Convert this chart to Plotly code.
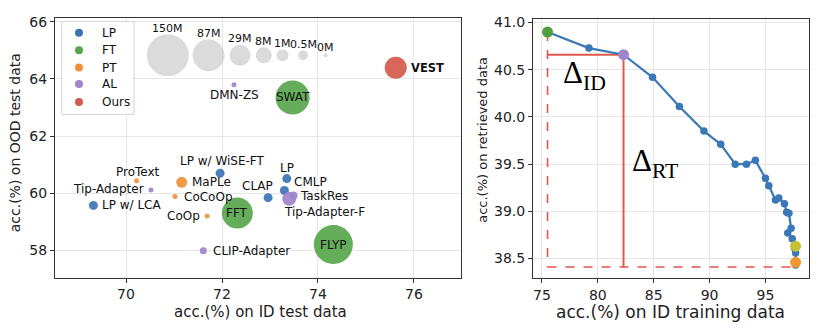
import plotly.graph_objects as go

# ---------------- data: OOD vs ID accuracy of adaptation methods ----------------
methods = ["LP w/ WiSE-FT", "LP", "CMLP", "CLAP", "LP w/ LCA",
           "FFT", "FLYP", "SWAT",
           "MaPLe", "CoCoOp", "CoOp", "ProText",
           "TaskRes", "Tip-Adapter-F", "Tip-Adapter", "CLIP-Adapter", "DMN-ZS",
           "VEST"]
method_group = ["LP", "LP", "LP", "LP", "LP",
                "FT", "FT", "FT",
                "PT", "PT", "PT", "PT",
                "AL", "AL", "AL", "AL", "AL",
                "Ours"]
id_acc = [71.96, 73.35, 73.30, 72.96, 69.32,
          72.32, 74.32, 73.47,
          71.16, 71.02, 71.69, 70.22,
          73.49, 73.40, 70.52, 71.61, 72.25,
          75.62]
ood_acc = [60.70, 60.51, 60.09, 59.84, 59.57,
           59.30, 58.20, 63.35,
           60.38, 59.88, 59.20, 60.43,
           59.92, 59.80, 60.11, 57.98, 63.80,
           64.39]

# trainable-parameter size key
param_labels = ["150M", "87M", "29M", "8M", "1M", "0.5M", "0M"]
param_x = [70.87, 71.72, 72.375, 72.87, 73.26, 73.69, 74.16]
param_y = 64.83

groups = ["LP", "FT", "PT", "AL", "Ours"]

# ---------------- data: retrieved vs ID training accuracy ----------------
train_acc = [75.5, 79.2, 82.3, 84.9, 87.3, 89.5, 91.0, 92.3, 93.3, 94.1,
             95.0, 95.3, 95.9, 96.2, 96.7, 96.9, 97.1, 97.3, 97.0, 97.4,
             97.6, 97.7, 97.7]
retr_acc = [40.90, 40.73, 40.66, 40.42, 40.11, 39.85, 39.71, 39.50, 39.50, 39.54,
            39.35, 39.27, 39.12, 39.14, 39.08, 38.99, 38.98, 38.82, 38.77, 38.71,
            38.61, 38.56, 38.43]
start_idx, mid_idx = 0, 2
olive_pt = (97.7, 38.63)
orange_pt = (97.7, 38.46)

# ---------------- styles ----------------
FONT = "DejaVu Sans"
group_color = {"LP": "#3b74b5", "FT": "#58a64c", "PT": "#f0923a",
               "AL": "#a184c9", "Ours": "#d25a4b"}
method_diam = [9, 9, 9, 9, 9,
               31, 39, 34,
               11, 5, 5, 5,
               8, 14, 5, 7, 5,
               22]
param_diam = [42, 32, 21, 16, 12, 10, 4]
# label placement: (xanchor, dx px, dy px screen-down)
label_place = {
    "LP w/ WiSE-FT": ("center", 2.5, -12.4),
    "LP": ("center", 0.6, -11),
    "CMLP": ("left", 7.7, -8.5),
    "CLAP": ("center", -10.6, -11.2),
    "LP w/ LCA": ("left", 6.7, 0),
    "FFT": ("center", 0, 0),
    "FLYP": ("center", 0, 0),
    "SWAT": ("center", 0, 0),
    "MaPLe": ("left", 8.3, 0),
    "CoCoOp": ("left", 6.7, 0),
    "CoOp": ("right", -5.6, 0),
    "ProText": ("center", 1, -9),
    "TaskRes": ("left", 4.8, 0.8),
    "Tip-Adapter-F": ("center", 35.4, 13.5),
    "Tip-Adapter": ("right", -5, -1),
    "CLIP-Adapter": ("left", 7.4, 0),
    "DMN-ZS": ("center", 0.5, 10.4),
    "VEST": ("left", 13.3, 0),
}

W, H = 819, 328
fig = go.Figure()

# size key bubbles
fig.add_trace(go.Scatter(
    x=param_x, y=[param_y] * len(param_x), mode="markers",
    marker=dict(size=param_diam, color="#cccccc", line=dict(width=0)),
    showlegend=False, hoverinfo="skip", xaxis="x", yaxis="y"))

# method bubbles, one trace per group
for g in groups:
    idx = [i for i, mg in enumerate(method_group) if mg == g]
    fig.add_trace(go.Scatter(
        x=[id_acc[i] for i in idx], y=[ood_acc[i] for i in idx],
        mode="markers", text=[methods[i] for i in idx], name=g,
        marker=dict(size=[method_diam[i] for i in idx], color=group_color[g],
                    opacity=0.92, line=dict(width=0)),
        showlegend=False, xaxis="x", yaxis="y"))

# retrieved-data curve
fig.add_trace(go.Scatter(
    x=train_acc, y=retr_acc, mode="lines+markers",
    line=dict(color="#3b78b8", width=2.2),
    marker=dict(size=7.5, color="#3b78b8"),
    showlegend=False, xaxis="x2", yaxis="y2"))
for (px, py, col) in [(train_acc[start_idx], retr_acc[start_idx], "#4f9e3f"),
                      (train_acc[mid_idx], retr_acc[mid_idx], "#a184c9"),
                      (olive_pt[0], olive_pt[1], "#c4c232"),
                      (orange_pt[0], orange_pt[1], "#f0962e")]:
    fig.add_trace(go.Scatter(
        x=[px], y=[py], mode="markers",
        marker=dict(size=11, color=col, line=dict(width=0)),
        showlegend=False, xaxis="x2", yaxis="y2"))

# delta guide lines
RED = "#e0574c"
x0, y0 = train_acc[start_idx], retr_acc[start_idx]
x1, y1 = train_acc[mid_idx], retr_acc[mid_idx]
xe, ye = train_acc[-1], retr_acc[-1] - 0.02
shapes = [
    dict(type="line", xref="x2", yref="y2", x0=x0, y0=y0, x1=x0, y1=ye,
         line=dict(color=RED, width=1.6, dash="dash"), layer="between"),
    dict(type="line", xref="x2", yref="y2", x0=x0, y0=ye, x1=xe, y1=ye,
         line=dict(color=RED, width=1.6, dash="dash"), layer="between"),
    dict(type="line", xref="x2", yref="y2", x0=x0, y0=y1, x1=x1, y1=y1,
         line=dict(color=RED, width=2), layer="between"),
    dict(type="line", xref="x2", yref="y2", x0=x1, y0=y1, x1=x1, y1=ye,
         line=dict(color=RED, width=2), layer="between"),
]

annotations = []
# method labels
for i, m in enumerate(methods):
    anchor, dx, dy = label_place[m]
    txt = "<b>%s</b>" % m if m == "VEST" else m
    annotations.append(dict(
        x=id_acc[i], y=ood_acc[i], xref="x", yref="y", text=txt,
        showarrow=False, xanchor=anchor, yanchor="middle",
        xshift=dx, yshift=-dy,
        font=dict(family=FONT, size=12 if m != "VEST" else 11.5, color="#111111")))
# size key labels
for lab, px, d in zip(param_labels, param_x, param_diam):
    annotations.append(dict(
        x=px, y=param_y, xref="x", yref="y", text=lab, showarrow=False,
        xanchor="center", yanchor="middle", yshift=d / 2 + 6,
        font=dict(family=FONT, size=11, color="#111111")))
# delta labels
annotations.append(dict(x=78.85, y=40.44, xref="x2", yref="y2",
                        text="Δ<sub>ID</sub>", showarrow=False,
                        xanchor="center", yanchor="middle",
                        font=dict(family="Liberation Serif", size=31, color="#000000")))
annotations.append(dict(x=85.1, y=39.51, xref="x2", yref="y2",
                        text="Δ<sub>RT</sub>", showarrow=False,
                        xanchor="center", yanchor="middle",
                        font=dict(family="Liberation Serif", size=31, color="#000000")))
# axis titles
annotations += [
    dict(x=260 / W, y=1 - 311.7 / H, xref="paper", yref="paper",
         xanchor="center", yanchor="middle",
         text="acc.(%) on ID test data", showarrow=False,
         font=dict(family=FONT, size=15, color="#222222")),
    dict(x=15 / W, y=1 - 141 / H, xref="paper", yref="paper", textangle=-90,
         xanchor="center", yanchor="middle",
         text="acc.(%) on OOD test data", showarrow=False,
         font=dict(family=FONT, size=14, color="#222222")),
    dict(x=670 / W, y=1 - 311.7 / H, xref="paper", yref="paper",
         xanchor="center", yanchor="middle",
         text="acc.(%) on ID training data", showarrow=False,
         font=dict(family=FONT, size=17, color="#222222")),
    dict(x=483 / W, y=1 - 137.5 / H, xref="paper", yref="paper", textangle=-90,
         xanchor="center", yanchor="middle",
         text="acc.(%) on retrieved data", showarrow=False,
         font=dict(family=FONT, size=13, color="#222222")),
]

# group legend (box, coloured dots, names)
leg_left, leg_top, leg_right, leg_bottom = 61.7, 17.7, 134, 111.7
leg_rows = [29, 46.7, 64.3, 81, 99.3]
shapes.append(dict(type="rect", xref="paper", yref="paper",
                   x0=leg_left / W, x1=leg_right / W,
                   y0=1 - leg_bottom / H, y1=1 - leg_top / H,
                   line=dict(color="#d4d4d4", width=1), fillcolor="white",
                   layer="above"))
for g, ry in zip(groups, leg_rows):
    shapes.append(dict(type="circle", xref="paper", yref="paper",
                       xsizemode="pixel", ysizemode="pixel",
                       xanchor=79 / W, yanchor=1 - ry / H,
                       x0=-4, x1=4, y0=-4, y1=4,
                       fillcolor=group_color[g], line=dict(width=0),
                       layer="above"))
    annotations.append(dict(x=100 / W, y=1 - ry / H, xref="paper", yref="paper",
                            text=g, showarrow=False,
                            xanchor="left", yanchor="middle",
                            font=dict(family=FONT, size=12, color="#111111")))

axis_common = dict(showline=True, linecolor="#333333", linewidth=1, mirror=True,
                   showgrid=True, gridcolor="#e6e6e6", gridwidth=1,
                   ticks="outside", ticklen=4, tickcolor="#333333",
                   zeroline=False, tickfont=dict(family=FONT, size=14, color="#222222"))

fig.update_layout(
    width=W, height=H,
    margin=dict(l=0, r=0, t=0, b=0),
    paper_bgcolor="white", plot_bgcolor="white",
    font=dict(family=FONT, size=12, color="#222222"),
    showlegend=False,
    xaxis=dict(domain=[55 / W, 461 / W], range=[68.52, 76.98],
               tickvals=[70, 72, 74, 76], anchor="y", **axis_common),
    yaxis=dict(domain=[1 - 277 / H, 1 - 14 / H], range=[57.04, 66.14],
               tickvals=[58, 60, 62, 64, 66], anchor="x", **axis_common),
    xaxis2=dict(domain=[533 / W, 809 / W], range=[74.2, 98.9],
                tickvals=[75, 80, 85, 90, 95], anchor="y2", **axis_common),
    yaxis2=dict(domain=[1 - 277.7 / H, 1 - 15 / H], range=[38.29, 41.04],
                tickvals=[38.5, 39.0, 39.5, 40.0, 40.5, 41.0], tickformat=".1f",
                anchor="x2", **axis_common),
    shapes=shapes,
    annotations=annotations,
)

fig.write_html("out.html")
